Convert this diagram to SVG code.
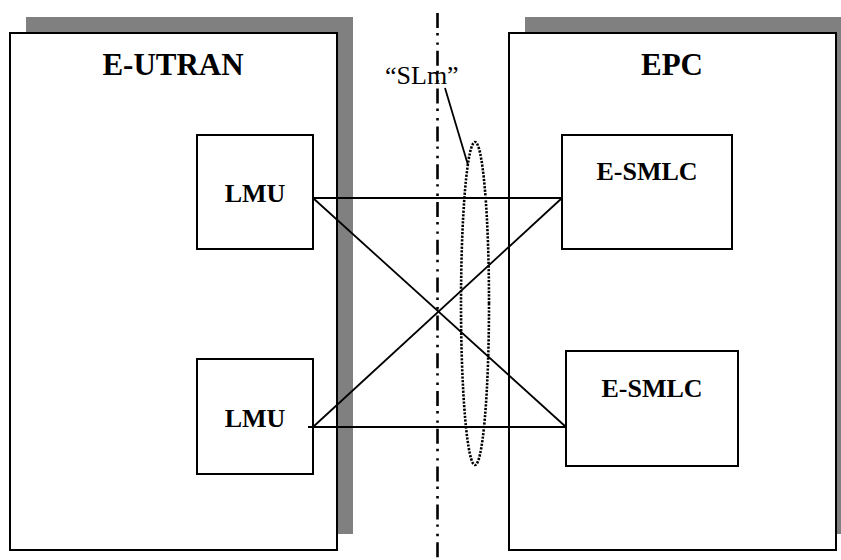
<svg xmlns="http://www.w3.org/2000/svg" width="841" height="560" viewBox="0 0 841 560">
<style>
.shadow{fill:#808080;stroke:none}
.domain{fill:#fff;stroke:#000;stroke-width:2}
.box{fill:#fff;stroke:#000;stroke-width:2}
.title{font-family:"Liberation Serif","Times New Roman",serif;font-weight:bold;font-size:31px;text-anchor:middle;fill:#000}
.lbl{font-family:"Liberation Serif","Times New Roman",serif;font-weight:bold;font-size:26px;text-anchor:middle;fill:#000}
.conn{stroke:#000;stroke-width:1.8;fill:none}
</style>
<rect width="841" height="560" fill="#fff"/>
<g id="e-utran">
<rect class="shadow" x="26" y="17" width="327" height="517"/>
<rect class="domain" x="10" y="33" width="327" height="517"/>
<text class="title" x="173" y="75">E-UTRAN</text>
</g>
<g id="epc">
<rect class="shadow" x="525" y="17" width="320" height="517"/>
<rect class="domain" x="509" y="33" width="327" height="517"/>
<text class="title" x="672" y="75">EPC</text>
</g>
<g id="lmu1">
<rect class="box" x="197" y="135" width="116" height="114"/>
<text class="lbl" x="255" y="202">LMU</text>
</g>
<g id="lmu2">
<rect class="box" x="197" y="359" width="116" height="115"/>
<text class="lbl" x="255" y="427">LMU</text>
</g>
<g id="esmlc1">
<rect class="box" x="562" y="135" width="170" height="114"/>
<text class="lbl" x="647" y="180">E-SMLC</text>
</g>
<g id="esmlc2">
<rect class="box" x="566" y="351" width="172" height="115"/>
<text class="lbl" x="652" y="397">E-SMLC</text>
</g>
<g id="connectors">
<line class="conn" x1="313" y1="198" x2="562" y2="198"/>
<line class="conn" x1="313" y1="198" x2="566" y2="427"/>
<line class="conn" x1="308" y1="427" x2="566" y2="427"/>
<line class="conn" x1="313" y1="427" x2="562" y2="198"/>
</g>
<g id="boundary">
<line x1="437.5" y1="13" x2="437.5" y2="560" stroke="#000" stroke-width="2.6" stroke-dasharray="15 5 2.4 7 2.4 6"/>
</g>
<g id="slm">
<ellipse cx="475" cy="303.5" rx="14" ry="161.5" fill="none" stroke="#000" stroke-width="2.6" stroke-dasharray="2.2 1.4"/>
<line class="conn" x1="445" y1="88" x2="468" y2="165"/>
<text x="385" y="84" font-family="Liberation Serif, Times New Roman, serif" font-size="26" fill="#000">“SLm”</text>
</g>
</svg>
